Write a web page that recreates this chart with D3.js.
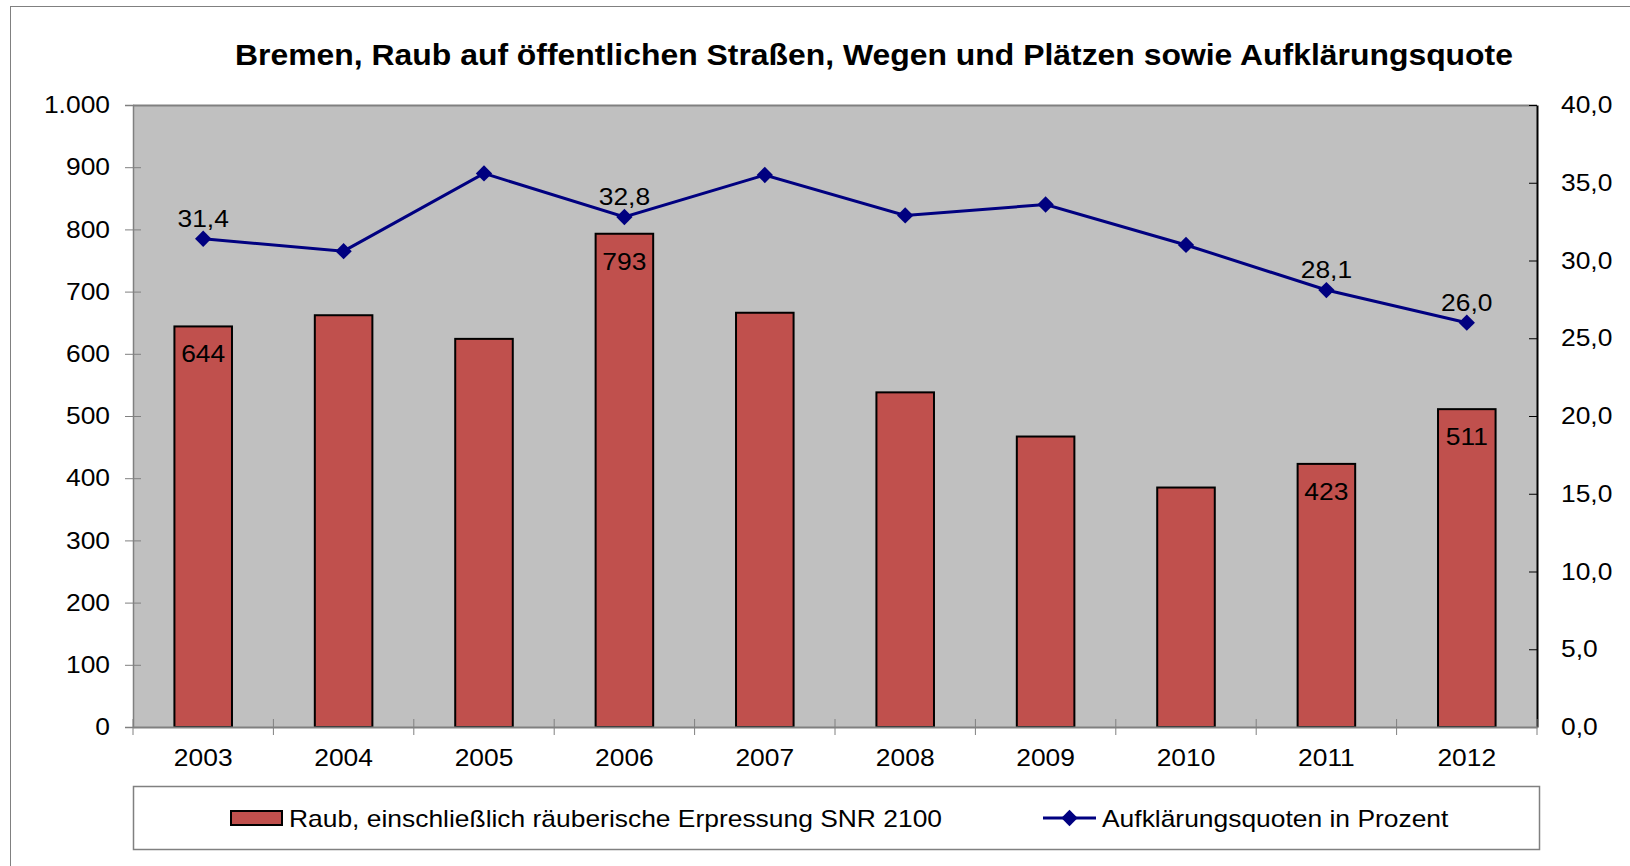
<!DOCTYPE html>
<html>
<head>
<meta charset="utf-8">
<script src="https://cdn.jsdelivr.net/npm/d3@7"></script>
<style>
  body { margin: 0; background: #fff; }
  svg { display: block; font-family: Arial, "Liberation Sans", sans-serif; }
</style>
</head>
<body>
<div id="chart"></div>
<script>
// Data
const years = ['2003', '2004', '2005', '2006', '2007', '2008', '2009', '2010', '2011', '2012'];
const raub = [644, 662, 624, 793, 666, 538, 467, 385, 423, 511];
const quote = [31.4, 30.6, 35.6, 32.8, 35.5, 32.9, 33.6, 31.0, 28.1, 26.0];
const labelledYears = ['2003', '2006', '2011', '2012'];
const leftTicks = [0, 100, 200, 300, 400, 500, 600, 700, 800, 900, 1000];
const rightTicks = [0, 5, 10, 15, 20, 25, 30, 35, 40];
const title = 'Bremen, Raub auf öffentlichen Straßen, Wegen und Plätzen sowie Aufklärungsquote';
const seriesNames = ['Raub, einschließlich räuberische Erpressung SNR 2100', 'Aufklärungsquoten in Prozent'];

const width = 1630, height = 866;
const plot = { left: 133, right: 1537, top: 105, bottom: 727 };
const stretch = 1.1; // the reference text is drawn a bit wider than Liberation Sans

const svg = d3.select('#chart').append('svg')
    .attr('width', width)
    .attr('height', height);

// Outer frame
svg.append('rect')
    .attr('x', 10.5).attr('y', 6.5)
    .attr('width', width).attr('height', height)
    .attr('fill', '#fff').attr('stroke', '#808080');

svg.append('text')
    .attr('x', 874).attr('y', 65)
    .attr('text-anchor', 'middle')
    .attr('font-size', 29).attr('font-weight', 'bold')
    .text(title);

const x = d3.scaleBand().domain(years).range([plot.left, plot.right]).paddingInner(0.59).paddingOuter(0.295);
const xb = d3.scaleBand().domain(years).range([plot.left, plot.right]);
const yL = d3.scaleLinear().domain([0, 1000]).range([plot.bottom, plot.top]);
const yR = d3.scaleLinear().domain([0, 40]).range([plot.bottom, plot.top]);

// Plot background
svg.append('rect')
    .attr('x', plot.left).attr('y', plot.top)
    .attr('width', plot.right - plot.left).attr('height', plot.bottom - plot.top)
    .attr('fill', '#c0c0c0');
svg.append('line')
    .attr('x1', plot.left).attr('x2', plot.right)
    .attr('y1', plot.top + 0.5).attr('y2', plot.top + 0.5)
    .attr('stroke', '#808080').attr('stroke-width', 2);

// Bars
svg.append('g').selectAll('rect')
    .data(years)
    .join('rect')
    .attr('x', d => x(d))
    .attr('y', (d, i) => yL(raub[i]))
    .attr('width', x.bandwidth())
    .attr('height', (d, i) => yL(0) - yL(raub[i]))
    .attr('fill', '#c0504d')
    .attr('stroke', '#000')
    .attr('stroke-width', 2);

// Axes
const fmtL = d3.formatLocale({ decimal: ',', thousands: '.', grouping: [3], currency: ['', ' €'] });
const axL = svg.append('g')
    .attr('transform', `translate(${plot.left},0)`)
    .call(d3.axisLeft(yL).tickValues(leftTicks).tickFormat(fmtL.format(',')).tickSize(8).tickPadding(15));
axL.selectAll('.tick line').attr('x2', -8).attr('x1', 8).attr('stroke', '#808080');
axL.select('.domain').attr('stroke', '#808080').attr('stroke-width', 1.5);

const axR = svg.append('g')
    .attr('transform', `translate(${plot.right},0)`)
    .call(d3.axisRight(yR).tickValues(rightTicks).tickFormat(fmtL.format('.1f')).tickSize(0).tickPadding(24));
axR.selectAll('.tick line').attr('x1', -8).attr('x2', 0).attr('stroke', '#000');
axR.select('.domain').attr('stroke', '#000').attr('stroke-width', 2);

const axB = svg.append('g')
    .attr('transform', `translate(0,${plot.bottom})`)
    .call(d3.axisBottom(xb).tickSize(0).tickPadding(22));
axB.select('.domain').attr('stroke', '#808080').attr('stroke-width', 2);
axB.selectAll('.tick line').remove();
axB.append('g').selectAll('line')
    .data(years.concat(['end']))
    .join('line')
    .attr('x1', (d, i) => i < years.length ? xb(d) : plot.right)
    .attr('x2', (d, i) => i < years.length ? xb(d) : plot.right)
    .attr('y1', -8).attr('y2', 8)
    .attr('stroke', '#808080');

svg.selectAll('.tick text')
    .attr('font-size', 24)
    .attr('font-family', 'Arial, "Liberation Sans", sans-serif')
    .attr('fill', '#000');

// Line series
const cx = d => xb(d) + xb.bandwidth() / 2;
svg.append('path')
    .datum(years)
    .attr('fill', 'none')
    .attr('stroke', '#000080')
    .attr('stroke-width', 3)
    .attr('d', d3.line().x(cx).y((d, i) => yR(quote[i])));

const diamond = d3.symbol().type(d3.symbolDiamond2).size(170);
svg.append('g').selectAll('path')
    .data(years)
    .join('path')
    .attr('transform', (d, i) => `translate(${cx(d)},${yR(quote[i])})`)
    .attr('d', diamond)
    .attr('fill', '#000080');

// Data labels
const fmtQ = fmtL.format('.1f');
svg.append('g').selectAll('text')
    .data(years.filter(d => labelledYears.includes(d)))
    .join('text')
    .attr('x', cx)
    .attr('y', d => yR(quote[years.indexOf(d)]) - 12)
    .attr('text-anchor', 'middle')
    .attr('font-size', 24)
    .text(d => fmtQ(quote[years.indexOf(d)]));

svg.append('g').selectAll('text')
    .data(years.filter(d => labelledYears.includes(d)))
    .join('text')
    .attr('x', cx)
    .attr('y', d => yL(raub[years.indexOf(d)]) + 36)
    .attr('text-anchor', 'middle')
    .attr('font-size', 24)
    .text(d => raub[years.indexOf(d)]);

// Legend
const legend = svg.append('g');
legend.append('rect')
    .attr('x', 133.5).attr('y', 786.5)
    .attr('width', 1406).attr('height', 63)
    .attr('fill', '#fff').attr('stroke', '#808080').attr('stroke-width', 1.5);
legend.append('rect')
    .attr('x', 231).attr('y', 811)
    .attr('width', 51).attr('height', 14)
    .attr('fill', '#c0504d').attr('stroke', '#000').attr('stroke-width', 2);
legend.append('text')
    .attr('x', 289).attr('y', 827)
    .attr('font-size', 24)
    .text(seriesNames[0]);
legend.append('line')
    .attr('x1', 1043).attr('x2', 1096)
    .attr('y1', 818).attr('y2', 818)
    .attr('stroke', '#000080').attr('stroke-width', 3);
legend.append('path')
    .attr('transform', 'translate(1069.5,818)')
    .attr('d', diamond)
    .attr('fill', '#000080');
legend.append('text')
    .attr('x', 1102).attr('y', 827)
    .attr('font-size', 24)
    .text(seriesNames[1]);

// Widen every text a little to match the reference glyph widths
svg.selectAll('text').each(function () {
    const len = this.getComputedTextLength();
    d3.select(this)
        .attr('textLength', len * stretch)
        .attr('lengthAdjust', 'spacingAndGlyphs');
});
</script>
</body>
</html>
